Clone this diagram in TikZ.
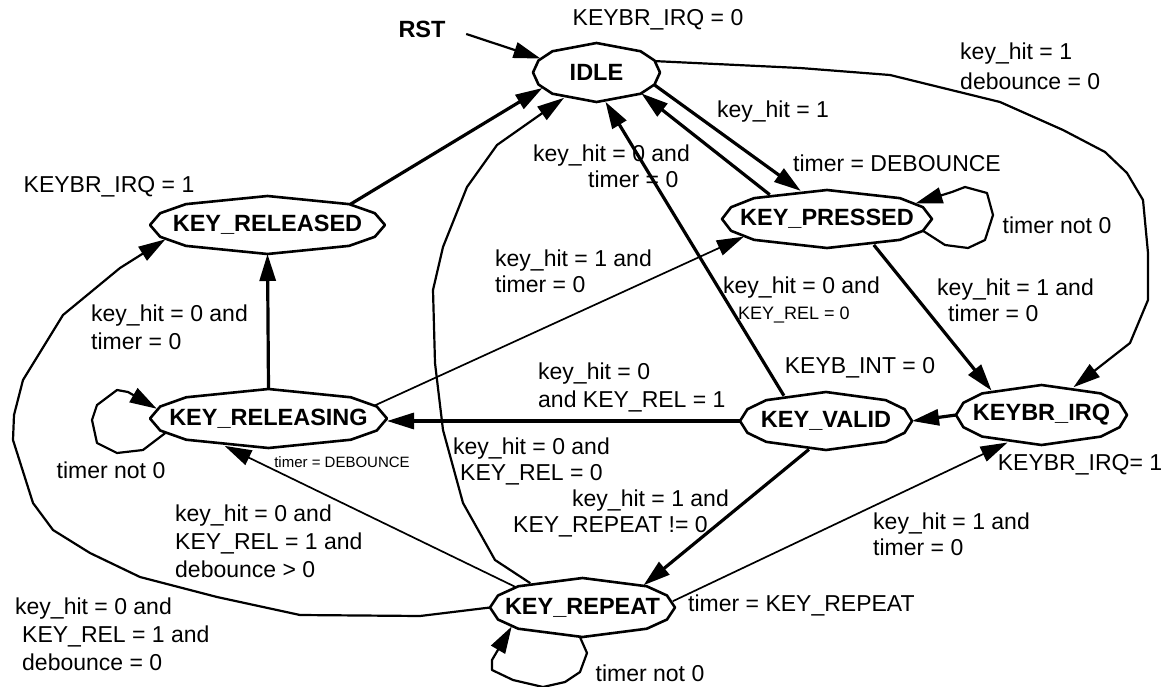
\documentclass[tikz,border=0pt]{standalone}
\usepackage{fontspec}
\setmainfont{Liberation Sans}
\usetikzlibrary{shapes.geometric,arrows.meta,calc}
\tikzset{
  st/.style={ellipse, draw=none, inner sep=0pt, outer sep=0pt,
    font=\fontsize{23.5}{28}\selectfont\bfseries},
  stb/.style={line width=2.6pt, line join=round},
  lbl/.style={inner sep=0pt, align=left, font=\fontsize{23}{26}\selectfont},
  lblw/.style={lbl, font=\fontsize{23}{28}\selectfont},
  sml/.style={inner sep=0pt, font=\fontsize{15}{17}\selectfont},
  tip/.style={-{Triangle[length=27pt,width=16pt]}, line join=round},
  thk/.style={tip, line width=3.2pt},
  med/.style={tip, line width=2.2pt},
  thn/.style={tip, line width=1.7pt}
}
\newcommand\statenode[6]{%
  \node[st, minimum width=#4pt, minimum height=#5pt] (#1) at (#2,#3) {\makebox[0pt]{#6}};
  \draw[stb] plot[samples at={0,24,46,90,134,156,180,204,226,270,314,336}, variable=\t]
    ({#2+#4/2*cos(\t)},{#3+#5/2*sin(\t)}) -- cycle;
}
\begin{document}
\begin{tikzpicture}[x=1pt,y=-1pt]
\fill[white] (0,0) rectangle (1172,687);
\useasboundingbox (0,0) rectangle (1172,687);

% states
\statenode{idle}{596.5}{72.5}{127}{59}{IDLE}
\statenode{krd}{267.5}{225}{235}{58}{KEY\_RELEASED}
\statenode{krg}{268.5}{418.5}{237}{59}{KEY\_RELEASING}
\statenode{kpr}{827}{219}{210}{58}{KEY\_PRESSED}
\statenode{kval}{826}{421}{172}{58}{KEY\_VALID}
\statenode{kbi}{1041.5}{415}{171}{60}{KEYBR\_IRQ}
\statenode{krep}{582.5}{607.5}{185}{59}{KEY\_REPEAT}
\node[st] (rst) at (422,29) {RST};

% connectors
\draw[med] ([xshift=11pt,yshift=-5pt]rst.east) -- (idle.166);
\draw[thk] (krd.14) -- (idle.196);
\draw[med] (krep.155) -- (495,560) -- (463,503) -- (443,430) -- (435,363) -- (433,290)
  -- (443,247) -- (467,187) -- (497,145) -- (idle.218);
\draw[thk] (kval.149) -- (idle.287);
\draw[thk] (idle.348) -- (kpr.133);
\draw[thk] (kpr.157) -- (idle.335);
\draw[med] (idle.11) -- (800,68) -- (890,75) -- (1000,102) -- (1063,130) -- (1105,152)
  -- (1127,173) -- (1143,200) -- (1148,253) -- (1148,300) -- (1130,343) -- (kbi.41);
\draw[med] (kpr.353) -- (945,245) -- (968,248) -- (985,240) -- (993,215) -- (987,193)
  -- (965,187) -- (952,192) -- (kpr.10);
\draw[thk] (krg.north) -- (krd.south);
\draw[thn] (krg.7) -- (kpr.192);
\draw[thk] (kpr.331) -- (kbi.154);
\draw[thk] (kbi.west) -- (kval.east);
\draw[thk] (kval.west) -- (kval.west -| krg.east);
\draw[med] (krg.188) -- (143,450) -- (117,453) -- (97,443) -- (92,420) -- (97,405)
  -- (117,390) -- (128,392) -- (krg.175);
\draw[thn] (krep.163) -- (krg.212);
\draw[med] (krep.west) -- (420,616) -- (300,615) -- (217,597) -- (140,577) -- (90,553)
  -- (53,530) -- (33,503) -- (13,440) -- (14,415) -- (23,380) -- (63,315) -- (120,268)
  -- (krd.188);
\draw[thk] (kval.239) -- (krep.20);
\draw[thn] (krep.4) -- (kbi.219);
\draw[med] (krep.265) -- (587,653) -- (580,672) -- (565,682) -- (543,687) -- (513,680)
  -- (492,670) -- (492,660) -- (krep.195);

% labels
\node[lbl] (l1) at (658,20) {KEYBR\_IRQ = 0};
\node[lbl, font=\fontsize{23}{30}\selectfont, anchor=west] (l2) at (960,66) {key\_hit = 1\\debounce = 0};
\node[lbl] (l3) at (109,187) {KEYBR\_IRQ = 1};
\node[lbl] (l4) at (773,112) {key\_hit = 1};
\node[lbl, anchor=west] (l5) at (533,166) {key\_hit = 0 and\\\hspace*{55pt}timer = 0};
\node[lbl] (l6) at (897,163) {timer = DEBOUNCE};
\node[lbl] (l7) at (1057,225) {timer not 0};
\node[lbl, anchor=west] (l8) at (495,271) {key\_hit = 1 and\\timer = 0};
\node[lbl, anchor=west] (l9) at (723,300) {key\_hit = 0 and\\\hspace*{15pt}{\fontsize{18}{20}\selectfont KEY\_REL = 0}};
\node[lbl, anchor=west] (l10) at (937,300) {key\_hit = 1 and\\\hspace*{11pt}timer = 0};
\node[lblw, anchor=west] (l11) at (91,327) {key\_hit = 0 and\\timer = 0};
\node[lbl] (l12) at (860,368) {KEYB\_INT = 0};
\node[lblw, anchor=west] (l13) at (538,387) {key\_hit = 0\\and KEY\_REL = 1};
\node[lbl] (l14) at (111,470) {timer not 0};
\node[sml] (l15) at (342,462) {timer = DEBOUNCE};
\node[lbl, anchor=west] (l16) at (453,461) {key\_hit = 0 and\\\hspace*{7pt}KEY\_REL = 0};
\node[lbl] (l17) at (1080,465) {KEYBR\_IRQ= 1};
\node[lbl, anchor=west] (l18) at (513,513) {\hspace*{59pt}key\_hit = 1 and\\KEY\_REPEAT != 0};
\node[lbl, anchor=west] (l19) at (873,534) {key\_hit = 1 and\\timer = 0};
\node[lblw, anchor=west] (l20) at (175,541) {key\_hit = 0 and\\KEY\_REL = 1 and\\debounce > 0};
\node[lbl, anchor=west] (l21) at (688,605) {timer = KEY\_REPEAT};
\node[lblw, anchor=west] (l22) at (15,634) {key\_hit = 0 and\\\hspace*{7pt}KEY\_REL = 1 and\\\hspace*{7pt}debounce = 0};
\node[lbl] (l23) at (650,673) {timer not 0};
\end{tikzpicture}
\end{document}
